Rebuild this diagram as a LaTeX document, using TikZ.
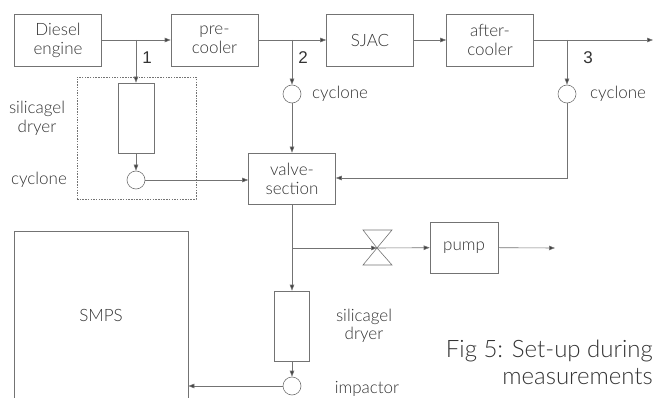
\documentclass[tikz,border=0pt]{standalone}
\usepackage{fontspec}
\IfFontExistsTF{Lato Light}{\setmainfont{Lato Light}}{\setmainfont{Lato}}
\newfontfamily\numfont{Liberation Sans}
\usetikzlibrary{arrows.meta}
\definecolor{ln}{gray}{0.45}
\definecolor{tx}{gray}{0.2}
\begin{document}
\begin{tikzpicture}[x=1pt,y=-1pt,
  font=\fontsize{17}{19}\selectfont,
  blk/.style={draw=ln, line width=0.6pt, text=tx, align=center, inner sep=0pt, minimum width=87pt, minimum height=52pt},
  dryer/.style={draw=ln, line width=0.6pt, inner sep=0pt, minimum width=36pt, minimum height=70pt},
  cyc/.style={circle, draw=ln, line width=0.6pt, inner sep=0pt, minimum size=18pt},
  flow/.style={draw=ln, line width=0.6pt, -{Triangle[length=6pt,width=4.5pt,fill=black!75]}},
  plain/.style={draw=ln, line width=0.6pt},
  lbl/.style={text=tx, align=center, inner sep=0pt},
  num/.style={text=black!80, inner sep=0pt, font=\numfont\fontsize{17}{18}\selectfont}]
\useasboundingbox (0,0) rectangle (655,398);
\clip (0,0) rectangle (655,398);
% main row
\node[blk] (diesel) at (58,40) {Diesel\\engine};
\node[blk] (pre) at (214.5,40) {pre-\\cooler};
\node[blk] (sjac) at (370,40) {SJAC};
\node[blk] (after) at (490,40) {after-\\cooler};
\coordinate (out1) at (653,40);
\draw[flow] (diesel) -- (pre);
\draw[flow] (pre) -- (sjac);
\draw[flow] (sjac) -- (after);
\draw[flow] (after) -- (out1);
% branch 1
\node[draw=ln, line width=0.6pt, dash pattern=on 1.5pt off 1.2pt, inner sep=0pt, minimum width=119pt, minimum height=122pt] (grp) at (136.5,138) {};
\node[dryer] (dry1) at (136,118) {};
\node[cyc] (cyc1) at (136,180) {};
\draw[flow] (diesel.east -| dry1.north) -- (dry1.north);
\draw[flow] (dry1.south) -- (cyc1.north);
\node[num] (n1) at (147,58) {1};
\node[lbl] (l1a) at (37,118) {silicagel\\dryer};
\node[lbl] (l1b) at (39,180) {cyclone};
% valve section
\node[blk] (vs) at (292,178.5) [minimum height=51pt] {valve-\\section};
\draw[flow] (cyc1.east) -- (cyc1.east -| vs.west);
% branch 2
\node[cyc] (cyc2) at (292,94) {};
\draw[flow] (pre.east -| cyc2.north) -- (cyc2.north);
\draw[flow] (cyc2.south) -- (vs.north);
\node[num] (n2) at (303,58) {2};
\node[lbl, anchor=west] (l2) at (312,94) {cyclone};
% branch 3
\node[cyc] (cyc3) at (567,94) {};
\draw[flow] (after.east -| cyc3.north) -- (cyc3.north);
\coordinate (r3) at (567,178);
\draw[flow] (cyc3.south) -- (r3) -- (r3 -| vs.east);
\node[num] (n3) at (588,58) {3};
\node[lbl, anchor=west] (l3) at (590,94) {cyclone};
% pump line
\coordinate (j4) at (292,248);
\coordinate (valve) at (377,248);
\node[blk, minimum width=68pt, minimum height=51pt] (pump) at (464,247.5) {pump};
\coordinate (out2) at (555,248);
\draw[plain] (363,230) -- (392,230) -- (valve) -- cycle;
\draw[plain] (363,265) -- (392,265) -- (valve) -- cycle;
\draw[flow] (j4) -- (valve);
\draw[flow] (valve) -- (pump);
\draw[flow] (pump) -- (out2);
% lower dryer and impactor
\node[dryer, minimum width=35pt] (dry2) at (292,326) {};
\node[cyc] (imp) at (292,386) {};
\draw[flow] (vs.south) -- (dry2.north);
\draw[flow] (dry2.south) -- (imp.north);
\node[lbl, font=\fontsize{17}{18}\selectfont] (l4a) at (364,326) {silicagel\\dryer};
\node[lbl, anchor=base] (l4b) at (367,393) {impactor};
% SMPS
\node[draw=ln, line width=0.6pt, inner sep=0pt, minimum width=174pt, minimum height=179pt] (smps) at (101,320.5) {};
\node[lbl] (smpst) at (101,315) {SMPS};
\draw[flow] (imp.west) -- (imp.west -| smps.east);
% caption
\node[lbl, anchor=base east, font=\fontsize{24}{27}\selectfont] (cap1) at (653,357) {Fig 5: Set-up during};
\node[lbl, anchor=base east, font=\fontsize{24}{27}\selectfont] (cap2) at (653,384) {measurements};
\end{tikzpicture}
\end{document}
